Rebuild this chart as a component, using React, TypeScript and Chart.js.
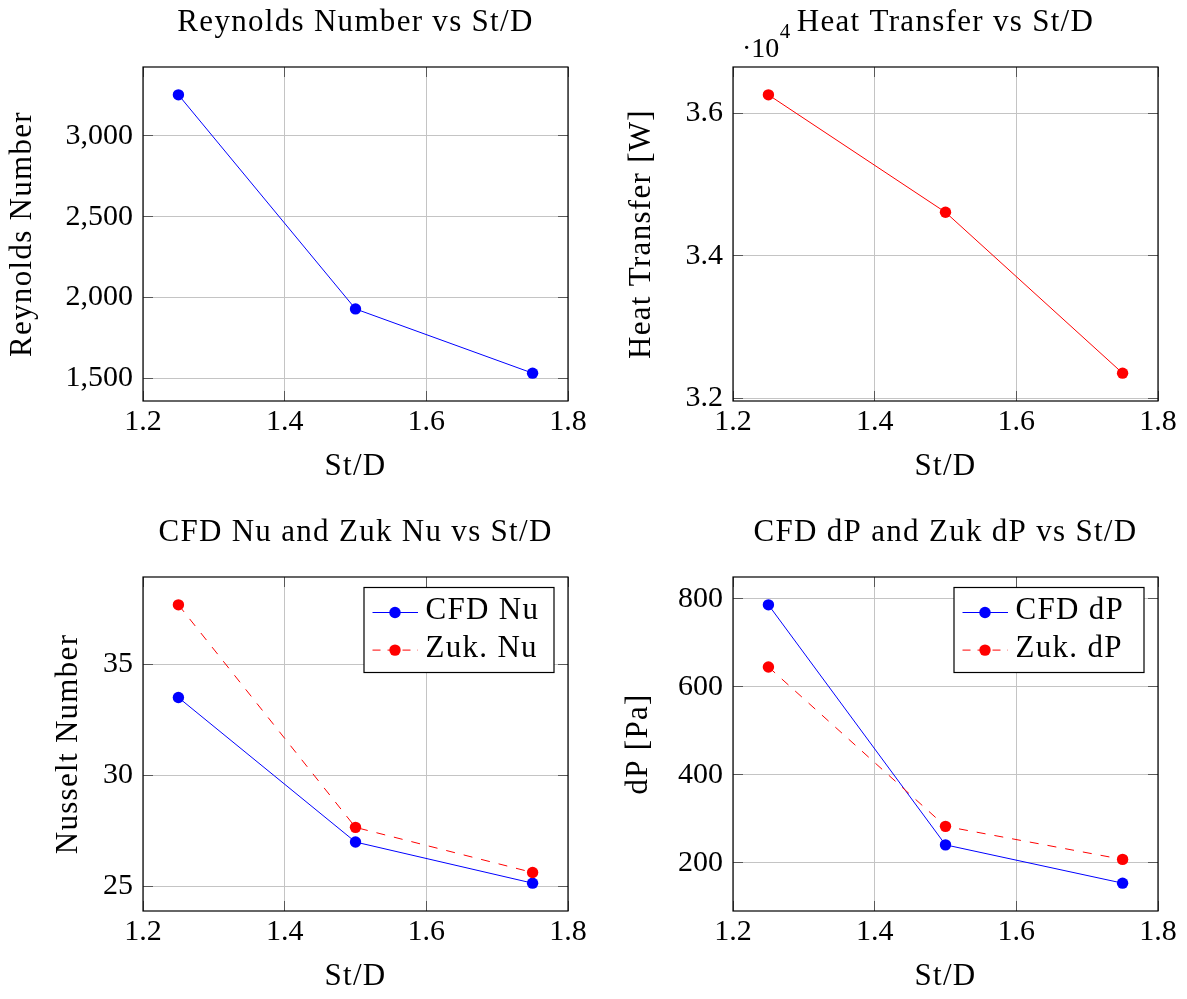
import React, { useEffect, useRef } from "react";
import { Chart, registerables } from "chart.js";

Chart.register(...registerables);

// ---------- data ----------
const stD = [1.25, 1.5, 1.75];
const reynolds = [3253, 1930, 1533];
const heatTransfer = [36260, 34610, 32350];
const cfdNu = [33.5, 27.0, 25.15];
const zukNu = [37.67, 27.66, 25.63];
const cfdDP = [786, 241, 154];
const zukDP = [645, 283, 208];

// ---------- ticks ----------
const xTicks = [1.2, 1.4, 1.6, 1.8];
const reynoldsTicks = [1500, 2000, 2500, 3000];
const heatTicks = [32000, 34000, 36000];
const nuTicks = [25, 30, 35];
const dpTicks = [200, 400, 600, 800];

const FONT = "'Liberation Serif', 'Times New Roman', serif";
const BLUE = "rgb(0,0,255)";
const RED = "rgb(255,0,0)";
const GRID = "rgb(196,196,196)";
const TICK = 10;
const TEXT_SIZE = 31;
const TEXT_SPACING = "1.3px";

Chart.defaults.font.family = FONT;
Chart.defaults.color = "#000";

type Series = { label: string; values: number[]; color: string; dashed?: boolean };
type Spec = {
  title: string;
  xTitle: string;
  yTitle: string;
  series: Series[];
  yTicks: number[];
  yFormat: (v: number) => string;
  row: "top" | "bottom";
  col: "left" | "right";
  legend?: boolean;
  exponent?: boolean;
};

function enlarged(values: number[]): [number, number] {
  const lo = Math.min(...values);
  const hi = Math.max(...values);
  const d = (hi - lo) * 0.1;
  return [lo - d, hi + d];
}

const alignPx = (p: number) => Math.round(p - 0.5) + 0.5;

function setSpacing(ctx: any, v: string) {
  if ("letterSpacing" in ctx) ctx.letterSpacing = v;
}

const framePlugin = {
  id: "pgfFrame",
  afterDraw(chart: any, _args: any, opts: any) {
    const { ctx, chartArea: a } = chart;
    const xs = chart.scales.x;
    const ys = chart.scales.y;
    ctx.save();
    // inner tick marks
    ctx.strokeStyle = "rgba(0,0,0,0.55)";
    ctx.lineWidth = 1;
    ctx.beginPath();
    for (const t of xs.ticks) {
      const px = alignPx(xs.getPixelForValue(t.value));
      ctx.moveTo(px, a.bottom);
      ctx.lineTo(px, a.bottom - TICK);
      ctx.moveTo(px, a.top);
      ctx.lineTo(px, a.top + TICK);
    }
    for (const t of ys.ticks) {
      const py = alignPx(ys.getPixelForValue(t.value));
      ctx.moveTo(a.left, py);
      ctx.lineTo(a.left + TICK, py);
      ctx.moveTo(a.right, py);
      ctx.lineTo(a.right - TICK, py);
    }
    ctx.stroke();
    // frame
    ctx.strokeStyle = "#000";
    ctx.lineWidth = 1.2;
    ctx.strokeRect(a.left, a.top, a.right - a.left, a.bottom - a.top);

    // texts: title, axis titles
    ctx.fillStyle = "#000";
    ctx.font = `${TEXT_SIZE}px ${FONT}`;
    ctx.textAlign = "center";
    ctx.textBaseline = "middle";
    setSpacing(ctx, TEXT_SPACING);
    const cx = (a.left + a.right) / 2;
    const cy = (a.top + a.bottom) / 2;
    ctx.fillText(opts.title, cx, a.top - opts.titleGap);
    ctx.fillText(opts.xTitle, cx, a.bottom + 65.5);
    ctx.save();
    ctx.translate(opts.yTitleX, cy);
    ctx.rotate(-Math.PI / 2);
    ctx.fillText(opts.yTitle, 0, 0);
    ctx.restore();

    // legend
    if (opts.legend) {
      const W = 190;
      const H = 85;
      const bx = a.right - 14 - W;
      const by = a.top + 10.5;
      setSpacing(ctx, "0px");
      ctx.fillStyle = "#fff";
      ctx.fillRect(bx, by, W, H);
      ctx.strokeStyle = "#000";
      ctx.lineWidth = 1.2;
      ctx.strokeRect(bx, by, W, H);
      chart.data.datasets.forEach((ds: any, i: number) => {
        const ly = by + 25 + i * 37.6;
        ctx.strokeStyle = ds.borderColor;
        ctx.lineWidth = 1;
        ctx.setLineDash(ds.borderDash && ds.borderDash.length ? [8, 7] : []);
        ctx.beginPath();
        ctx.moveTo(bx + 8.5, ly);
        ctx.lineTo(bx + 54, ly);
        ctx.stroke();
        ctx.setLineDash([]);
        ctx.fillStyle = ds.borderColor;
        ctx.beginPath();
        ctx.arc(bx + 31, ly, 5.7, 0, Math.PI * 2);
        ctx.fill();
        ctx.fillStyle = "#000";
        ctx.font = `${TEXT_SIZE}px ${FONT}`;
        setSpacing(ctx, TEXT_SPACING);
        ctx.textAlign = "left";
        ctx.textBaseline = "middle";
        ctx.fillText(ds.label, bx + 61.5, ly - 1.5);
        setSpacing(ctx, "0px");
      });
    }

    // scale exponent label
    if (opts.exponent) {
      setSpacing(ctx, "0px");
      ctx.fillStyle = "#000";
      ctx.textAlign = "left";
      ctx.textBaseline = "alphabetic";
      ctx.font = `28px ${FONT}`;
      const x0 = a.left + 9;
      ctx.fillText("\u00B710", x0, a.top - 10.3);
      const w = ctx.measureText("\u00B710").width;
      ctx.font = `21px ${FONT}`;
      ctx.fillText("4", x0 + w + 0.5, a.top - 29.5);
    }
    ctx.restore();
  },
};

function makeConfig(spec: Spec, canvasW: number, canvasH: number): any {
  const font = { family: FONT, size: 30, weight: "normal" as const, lineHeight: 1.2 };
  const isTop = spec.row === "top";
  const isLeft = spec.col === "left";
  const boxLeft = isLeft ? 143 : 140;
  const boxTop = isTop ? 67 : 77;
  const boxBottom = isTop ? 401 : 411;
  const padRight = isLeft ? 25 : 29;
  const yTitleX = isTop ? (isLeft ? 23 : 49) : isLeft ? 69 : 46;
  const [ymin, ymax] = enlarged(spec.series.flatMap((s) => s.values));

  const datasets = spec.series.map((s, i) => ({
    label: s.label,
    data: stD.map((x, j) => ({ x, y: s.values[j] })),
    borderColor: s.color,
    backgroundColor: s.color,
    pointBackgroundColor: s.color,
    pointBorderColor: s.color,
    pointBorderWidth: 0,
    pointRadius: 5.7,
    pointHoverRadius: 5.7,
    borderWidth: 1,
    borderDash: s.dashed ? [9, 9] : [],
    tension: 0,
    fill: false,
    order: spec.series.length - i,
  }));

  return {
    type: "line",
    data: { datasets },
    plugins: [framePlugin],
    options: {
      responsive: false,
      animation: false,
      events: [],
      layout: { padding: { left: 0, top: boxTop, right: padRight, bottom: 0 } },
      plugins: {
        legend: { display: false },
        tooltip: { enabled: false },
        title: { display: false },
        pgfFrame: {
          legend: !!spec.legend,
          exponent: !!spec.exponent,
          title: spec.title,
          xTitle: spec.xTitle,
          yTitle: spec.yTitle,
          titleGap: 44.5,
          yTitleX,
        },
      },
      scales: {
        x: {
          type: "linear",
          min: xTicks[0],
          max: xTicks[xTicks.length - 1],
          bounds: "data",
          afterBuildTicks: (s: any) => {
            s.ticks = xTicks.map((v) => ({ value: v }));
          },
          afterFit: (s: any) => {
            s.height = canvasH - boxBottom;
          },
          grid: { color: GRID, lineWidth: 1, drawTicks: false },
          border: { display: false },
          ticks: {
            font,
            color: "#000",
            padding: 3,
            autoSkip: false,
            maxRotation: 0,
            callback: (v: any) => Number(v).toFixed(1),
          },
          title: { display: false },
        },
        y: {
          type: "linear",
          min: ymin,
          max: ymax,
          bounds: "data",
          afterBuildTicks: (s: any) => {
            s.ticks = spec.yTicks.map((v) => ({ value: v }));
          },
          afterFit: (s: any) => {
            s.width = boxLeft;
          },
          grid: { color: GRID, lineWidth: 1, drawTicks: false },
          border: { display: false },
          ticks: {
            font,
            color: "#000",
            padding: 10,
            autoSkip: false,
            callback: (v: any) => spec.yFormat(Number(v)),
          },
          title: { display: false },
        },
      },
    },
  };
}

const specs: { spec: Spec; left: number; top: number; w: number; h: number }[] = [
  {
    left: 0,
    top: 0,
    w: 593,
    h: 500,
    spec: {
      title: "Reynolds Number vs St/D",
      xTitle: "St/D",
      yTitle: "Reynolds Number",
      series: [{ label: "Reynolds Number", values: reynolds, color: BLUE }],
      yTicks: reynoldsTicks,
      yFormat: (v) => v.toLocaleString("en-US"),
      row: "top",
      col: "left",
    },
  },
  {
    left: 593,
    top: 0,
    w: 594,
    h: 500,
    spec: {
      title: "Heat Transfer vs St/D",
      xTitle: "St/D",
      yTitle: "Heat Transfer [W]",
      series: [{ label: "Heat Transfer", values: heatTransfer, color: RED }],
      yTicks: heatTicks,
      yFormat: (v) => (v / 10000).toFixed(1),
      row: "top",
      col: "right",
      exponent: true,
    },
  },
  {
    left: 0,
    top: 500,
    w: 593,
    h: 499,
    spec: {
      title: "CFD Nu and Zuk Nu vs St/D",
      xTitle: "St/D",
      yTitle: "Nusselt Number",
      series: [
        { label: "CFD Nu", values: cfdNu, color: BLUE },
        { label: "Zuk. Nu", values: zukNu, color: RED, dashed: true },
      ],
      yTicks: nuTicks,
      yFormat: (v) => String(Math.round(v)),
      row: "bottom",
      col: "left",
      legend: true,
    },
  },
  {
    left: 593,
    top: 500,
    w: 594,
    h: 499,
    spec: {
      title: "CFD dP and Zuk dP vs St/D",
      xTitle: "St/D",
      yTitle: "dP [Pa]",
      series: [
        { label: "CFD dP", values: cfdDP, color: BLUE },
        { label: "Zuk. dP", values: zukDP, color: RED, dashed: true },
      ],
      yTicks: dpTicks,
      yFormat: (v) => String(Math.round(v)),
      row: "bottom",
      col: "right",
      legend: true,
    },
  },
];

function Panel({ spec, left, top, w, h }: { spec: Spec; left: number; top: number; w: number; h: number }) {
  const ref = useRef<HTMLCanvasElement | null>(null);
  useEffect(() => {
    if (!ref.current) return;
    const chart = new Chart(ref.current, makeConfig(spec, w, h));
    return () => chart.destroy();
  }, []);
  return (
    <div style={{ position: "absolute", left, top, width: w, height: h }}>
      <canvas ref={ref} width={w} height={h} style={{ display: "block", width: w, height: h }} />
    </div>
  );
}

export default function App() {
  return (
    <div style={{ position: "absolute", left: 0, top: 0, width: 1187, height: 999, background: "#fff" }}>
      {specs.map((p, i) => (
        <Panel key={i} spec={p.spec} left={p.left} top={p.top} w={p.w} h={p.h} />
      ))}
    </div>
  );
}
